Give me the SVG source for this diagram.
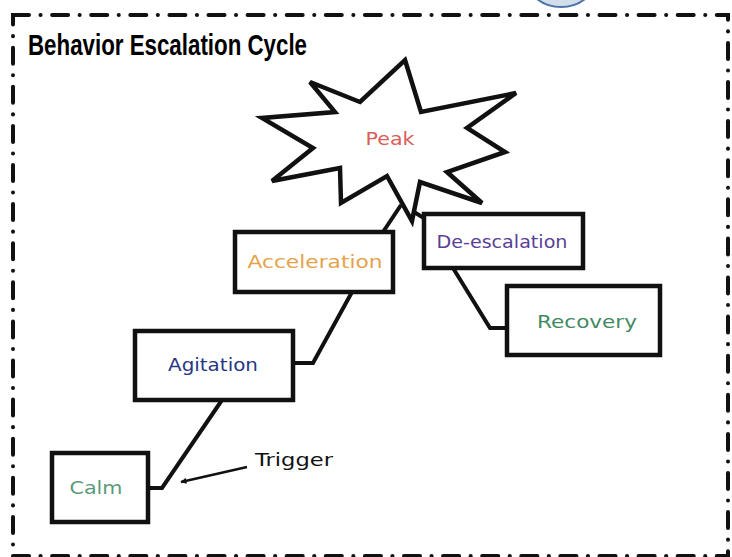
<svg xmlns="http://www.w3.org/2000/svg" width="732" height="557" viewBox="0 0 732 557">
<style>
.frame{fill:none;stroke:#111;stroke-width:4;stroke-linecap:round;stroke-dasharray:16 11.5 0.1 11.5}
.box{fill:#fff;stroke:#111;stroke-width:4.5}
.conn{fill:none;stroke:#111;stroke-width:4;stroke-linejoin:miter}
.lbl{font-family:"DejaVu Sans","Comic Neue",sans-serif;font-size:18px;text-anchor:middle}
.title{font-family:"Liberation Sans",Arial,sans-serif;font-weight:bold;font-size:30px}
</style>
<defs>
<marker id="arr" viewBox="0 0 10 10" refX="9" refY="5" markerWidth="6" markerHeight="6" orient="auto" markerUnits="userSpaceOnUse">
<path d="M0,0 L10,5 L0,10 Z" fill="#111"/>
</marker>
</defs>
<rect width="732" height="557" fill="#fff"/>
<circle cx="561" cy="-33" r="40" fill="#d3deeb" stroke="#4d74a6" stroke-width="2"/>
<rect class="frame" x="13" y="15" width="715" height="541"/>
<text class="title" x="28" y="55" textLength="279" lengthAdjust="spacingAndGlyphs">Behavior Escalation Cycle</text>
<g id="connectors">
<path class="conn" d="M148,488 H162 L222,400"/>
<path class="conn" d="M293,363 H313 L352,292"/>
<path class="conn" d="M383,232 L401,205"/>
<path class="conn" d="M414,212 L427,220"/>
<path class="conn" d="M453,268 L490,328 H507"/>
<line x1="247" y1="467" x2="181" y2="482" stroke="#111" stroke-width="2.5" marker-end="url(#arr)"/>
<text x="255" y="466" font-family="DejaVu Sans,sans-serif" font-size="17" fill="#111" textLength="78" lengthAdjust="spacingAndGlyphs">Trigger</text>
</g>
<g id="peak">
<polygon points="405,60 421,112 516,93 467,128 505,152 447,172 482,203 420,182 412,221 387,176 341,203 340,168 272,181 313,148 262,118 335,112 310,82 360,102" fill="#fff" stroke="#111" stroke-width="4.5" stroke-linejoin="miter"/>
<text class="lbl" x="390" y="145" fill="#d9605a" textLength="49" lengthAdjust="spacingAndGlyphs">Peak</text>
</g>
<g id="acceleration">
<rect class="box" x="235" y="232" width="158" height="60"/>
<text class="lbl" x="315" y="268" fill="#e6a24a" textLength="135" lengthAdjust="spacingAndGlyphs">Acceleration</text>
</g>
<g id="deescalation">
<rect class="box" x="424" y="214" width="159" height="54"/>
<text class="lbl" x="502" y="248" fill="#5a3f94" textLength="131" lengthAdjust="spacingAndGlyphs">De-escalation</text>
</g>
<g id="recovery">
<rect class="box" x="507" y="286" width="153" height="69"/>
<text class="lbl" x="587" y="328" fill="#3f8a63" textLength="100" lengthAdjust="spacingAndGlyphs">Recovery</text>
</g>
<g id="agitation">
<rect class="box" x="135" y="331" width="158" height="69"/>
<text class="lbl" x="213" y="371" fill="#283684" textLength="90" lengthAdjust="spacingAndGlyphs">Agitation</text>
</g>
<g id="calm">
<rect class="box" x="52" y="453" width="96" height="69"/>
<text class="lbl" x="96" y="494" fill="#5a9a7c" textLength="53" lengthAdjust="spacingAndGlyphs">Calm</text>
</g>
</svg>
